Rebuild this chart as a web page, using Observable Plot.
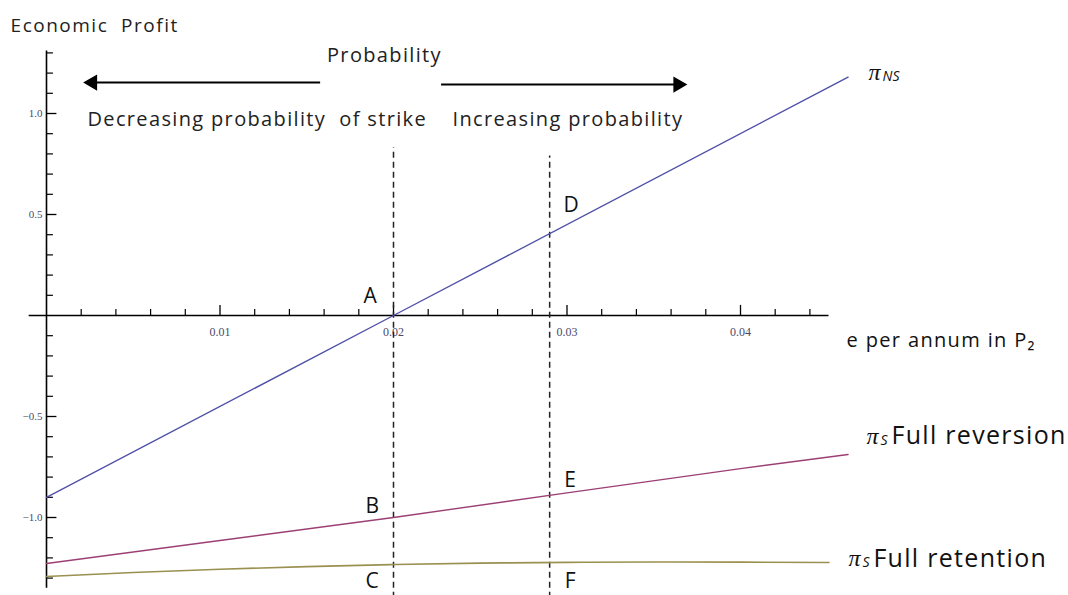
<!DOCTYPE html>
<html>
<head>
<meta charset="utf-8">
<script src="https://cdn.jsdelivr.net/npm/d3@7"></script>
<script src="https://cdn.jsdelivr.net/npm/@observablehq/plot@0.6"></script>
<style>
  html, body { margin: 0; padding: 0; background: #fff; }
  #chart svg { display: block; }
  #chart g[font-size="20"] text { letter-spacing: 1.35px; }
  #chart g[font-size="19"] text { letter-spacing: 1.5px; }
  #chart g[font-size="25"] text { letter-spacing: 1.3px; }
  #chart g[font-size="21"] text { letter-spacing: 0.6px; }
</style>
</head>
<body>
<div id="chart"></div>
<script>
// ---- data ----
const nsX = [0, 0.02, 0.0462];
const nsY = [-0.9, 0, 1.18];
const revX = [0, 0.01, 0.02, 0.03, 0.04, 0.0462];
const revY = [-1.228, -1.114, -1.0, -0.878, -0.758, -0.688];
const retX = [0, 0.005, 0.01, 0.015, 0.02, 0.025, 0.03, 0.035, 0.04, 0.0451];
const retY = [-1.292, -1.272, -1.256, -1.243, -1.233, -1.226, -1.222, -1.220, -1.221, -1.223];

const xTickValues = [0.01, 0.02, 0.03, 0.04];
const xTickLabels = ["0.01", "0.02", "0.03", "0.04"];
const xMinorTicks = [0.002, 0.004, 0.006, 0.008, 0.012, 0.014, 0.016, 0.018, 0.022, 0.024, 0.026, 0.028, 0.032, 0.034, 0.036, 0.038, 0.042, 0.044];
const yTickValues = [1.0, 0.5, -0.5, -1.0];
const yTickLabels = ["1.0", "0.5", "−0.5", "−1.0"];
const yMinorTicks = [1.3, 1.2, 1.1, 0.9, 0.8, 0.7, 0.6, 0.4, 0.3, 0.2, 0.1, -0.1, -0.2, -0.3, -0.4, -0.6, -0.7, -0.8, -0.9, -1.1, -1.2, -1.3];

const strikeLines = [0.02, 0.029];
const strikeTops = [0.83, 0.79];

const pointLabels = ["A", "B", "C", "D", "E", "F"];
const pointLabelX = [0.01867, 0.01879, 0.01879, 0.03026, 0.0302, 0.0302];
const pointLabelY = [0.094, -0.946, -1.318, 0.545, -0.817, -1.318];

const toRows = (xs, ys) => xs.map((x, i) => ({x, y: ys[i]}));
const ns = toRows(nsX, nsY);
const rev = toRows(revX, revY);
const ret = toRows(retX, retY);
const pts = pointLabels.map((t, i) => ({t, x: pointLabelX[i], y: pointLabelY[i]}));

const FONT = "'Open Sans', Lato, sans-serif";
const SERIF = "'Liberation Serif', 'DejaVu Serif', serif";
const PIFONT = "'Liberation Serif', 'DejaVu Serif', serif";

const chart = Plot.plot({
  width: 1068,
  height: 595,
  margin: 0,
  x: {axis: null, domain: [-0.001, 0.046], range: [28.65, 844.1]},
  y: {axis: null, domain: [-1.38, 1.3], range: [593.76, 52.4]},
  style: {fontFamily: FONT, background: "#fff"},
  marks: [
    // axes
    Plot.ruleY([0], {x1: -0.001, x2: 0.0451, stroke: "#000", strokeWidth: 1.6}),
    Plot.ruleX([0], {y1: -1.35, y2: 1.31, stroke: "#000", strokeWidth: 1.6}),
    Plot.ruleX(xTickValues, {y1: 0, y2: 0.05, stroke: "#000", strokeWidth: 1.3}),
    Plot.ruleX(xMinorTicks, {y1: 0, y2: 0.03, stroke: "#000", strokeWidth: 1.2}),
    Plot.ruleY(yTickValues, {x1: 0, x2: 0.0006, stroke: "#000", strokeWidth: 1.3}),
    Plot.ruleY(yMinorTicks, {x1: 0, x2: 0.0004, stroke: "#000", strokeWidth: 1.2}),
    Plot.text(xTickValues, {x: d => d, y: 0, text: (d, i) => xTickLabels[i], dy: 17, fontFamily: SERIF, fontSize: 12, fill: "#4a4a6a"}),
    Plot.text(yTickValues, {x: 0, y: d => d, text: (d, i) => yTickLabels[i], dx: -4, textAnchor: "end", fontFamily: SERIF, fontSize: 11, fill: "#4a4a6a"}),

    // strike dashed lines
    Plot.ruleX(strikeLines, {y1: -1.4, y2: (d, i) => strikeTops[i], stroke: "#222", strokeWidth: 1.5, strokeDasharray: "6,4"}),

    // curves
    Plot.line(ns, {x: "x", y: "y", stroke: "#5050a8", strokeWidth: 1.4}),
    Plot.line(rev, {x: "x", y: "y", stroke: "#9c3f74", strokeWidth: 1.4}),
    Plot.line(ret, {x: "x", y: "y", stroke: "#9a9050", strokeWidth: 1.6, curve: "natural"}),

    // probability arrows
    Plot.ruleY([1.153], {x1: 0.0028, x2: 0.0158, stroke: "#000", strokeWidth: 2}),
    Plot.dot([0.00265], {x: d => d, y: 1.153, symbol: "triangle", r: 6, fill: "#000", rotate: -90}),
    Plot.ruleY([1.143], {x1: 0.02277, x2: 0.0362, stroke: "#000", strokeWidth: 2}),
    Plot.dot([0.0364], {x: d => d, y: 1.143, symbol: "triangle", r: 6, fill: "#000", rotate: 90}),

    // texts
    Plot.text(["Economic  Profit"], {x: -0.00207, y: 1.436, textAnchor: "start", fontSize: 19, fill: "#222"}),
    Plot.text(["Probability"], {x: 0.01948, y: 1.287, fontSize: 20, fill: "#222"}),
    Plot.text(["Decreasing probability  of strike"], {x: 0.00236, y: 0.970, textAnchor: "start", fontSize: 20, fill: "#222"}),
    Plot.text(["Increasing probability"], {x: 0.0234, y: 0.970, textAnchor: "start", fontSize: 20, fill: "#222"}),
    Plot.text(pts, {x: "x", y: "y", text: "t", fontSize: 21, fill: "#111"}),

    // curve labels
    Plot.text(["π"], {x: 0.04738, y: 1.203, textAnchor: "start", fontSize: 24, fontStyle: "italic", fontFamily: PIFONT, fill: "#111"}),
    Plot.text(["NS"], {x: 0.04738, y: 1.203, dx: 14, dy: 4, textAnchor: "start", fontSize: 14, fontStyle: "italic", fill: "#111"}),
    Plot.text(["π"], {x: 0.04726, y: -0.599, textAnchor: "start", fontSize: 24, fontStyle: "italic", fontFamily: PIFONT, fill: "#111"}),
    Plot.text(["S"], {x: 0.04726, y: -0.599, dx: 14, dy: 4, textAnchor: "start", fontSize: 14, fontStyle: "italic", fill: "#111"}),
    Plot.text(["Full reversion"], {x: 0.04726, y: -0.599, dx: 25, textAnchor: "start", fontSize: 25, fill: "#111"}),
    Plot.text(["π"], {x: 0.04622, y: -1.203, textAnchor: "start", fontSize: 24, fontStyle: "italic", fontFamily: PIFONT, fill: "#111"}),
    Plot.text(["S"], {x: 0.04622, y: -1.203, dx: 14, dy: 4, textAnchor: "start", fontSize: 14, fontStyle: "italic", fill: "#111"}),
    Plot.text(["Full retention"], {x: 0.04622, y: -1.203, dx: 25, textAnchor: "start", fontSize: 25, fill: "#111"}),
    Plot.text(["e per annum in P₂"], {x: 0.04594, y: -0.124, dx: 3, textAnchor: "start", fontSize: 20, fill: "#111"})
  ]
});
document.getElementById("chart").appendChild(chart);
</script>
</body>
</html>
